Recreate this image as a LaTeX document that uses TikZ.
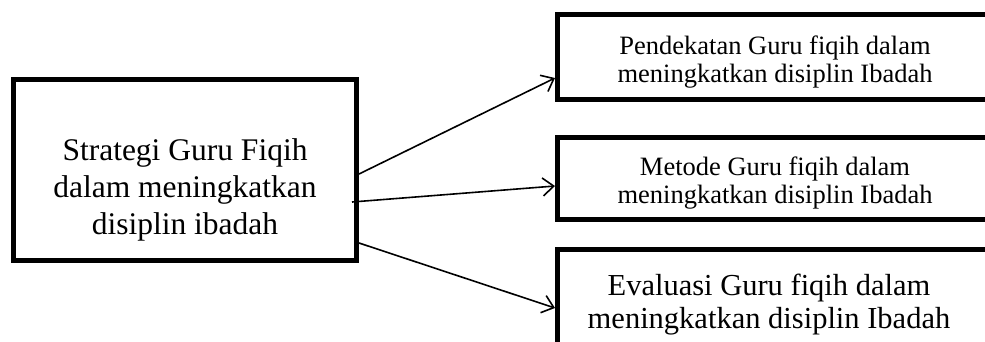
\documentclass[tikz,border=0pt]{standalone}
\usepackage{fontspec}
\setmainfont{Liberation Serif}
\usetikzlibrary{arrows.meta,calc}
\begin{document}
\begin{tikzpicture}[x=1pt,y=-1pt,
  frame/.style={draw, line width=5pt, inner sep=0pt},
  label/.style={align=center, inner sep=0pt},
  link/.style={line width=1.6pt, -{Straight Barb[length=11pt,width=18pt,line width=1.6pt]}},
]
\useasboundingbox (0,0) rectangle (985,341);
\clip (0,0) rectangle (985,341);

% main strategy box
\node[frame, minimum width=343pt, minimum height=181pt] (L) at (185,170) {};
\node[label, font=\fontsize{31.5}{37}\selectfont] (Lt) at (185,190)
  {Strategi Guru Fiqih\\dalam meningkatkan\\disiplin ibadah};

% three boxes on the right, running off the page edge
\node[frame, minimum width=432.5pt, minimum height=85pt] (A) at (773.75,57) {};
\node[label, font=\fontsize{26.5}{28}\selectfont] (At) at (775,62)
  {Pendekatan Guru fiqih dalam\\meningkatkan disiplin Ibadah};

\node[frame, minimum width=432.5pt, minimum height=82pt] (B) at (773.75,178.5) {};
\node[label, font=\fontsize{26.5}{28}\selectfont] (Bt) at (775,183)
  {Metode Guru fiqih dalam\\meningkatkan disiplin Ibadah};

\node[frame, minimum width=432.5pt, minimum height=105.5pt] (C) at (773.75,302) {};
\node[label, font=\fontsize{30.5}{33}\selectfont] (Ct) at (769,304.5)
  {Evaluasi Guru fiqih dalam\\meningkatkan disiplin Ibadah};

% connectors
\draw[link] (L.east |- 0,174) -- (A.west |- 0,78);
\draw[link] ($(L.east |- 0,202)+(-7,0)$) -- (B.west |- 0,186);
\draw[link] (L.east |- 0,243) -- (C.west |- 0,308);
\end{tikzpicture}
\end{document}
